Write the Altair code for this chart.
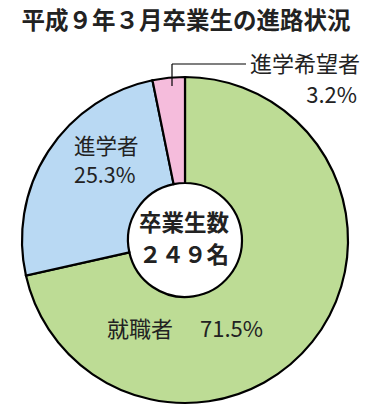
import altair as alt
import pandas as pd

categories = ["就職者", "進学者", "進学希望者"]
shares = [71.5, 25.3, 3.2]
colors = ["#bddc95", "#b9d9f3", "#f5bcdc"]
title_text = "平成９年３月卒業生の進路状況"
total_label = ["卒業生数", "２４９名"]

df = pd.DataFrame({"cat": categories, "share": shares, "order": [0, 1, 2]})
FONT = "Noto Sans CJK JP"

W, H = 378, 413
CX, CY = 185, 240

arc = alt.Chart(df).mark_arc(
    outerRadius=163, innerRadius=57, stroke="black", strokeWidth=2.2
).encode(
    theta=alt.Theta("share:Q", stack=True),
    order=alt.Order("order:Q"),
    color=alt.Color("cat:N", scale=alt.Scale(domain=categories, range=colors), legend=None),
    x=alt.value(CX), y=alt.value(CY),
)

base = alt.Chart(pd.DataFrame({"a": [0]}))

def txt(text, x, y, size, weight="normal", align="left", font=FONT, color="#222"):
    return base.mark_text(
        text=text, fontSize=size, fontWeight=weight, align=align, baseline="middle",
        font=font, color=color
    ).encode(x=alt.value(x), y=alt.value(y))

lbl = {c: f"{s}%" for c, s in zip(categories, shares)}

layers = [
    arc,
    txt(title_text, 186, 22, 23.5, weight="bold", align="center"),
    txt(categories[2], 250, 65, 22),
    txt(lbl[categories[2]], 357, 96, 22, align="right"),
    txt(categories[1], 74, 148, 21.5),
    txt(lbl[categories[1]], 74, 177, 21.5),
    txt(categories[0], 107, 330, 22),
    txt(lbl[categories[0]], 200, 330, 22),
    txt(total_label[0], 184, 224, 22.5, weight="bold", align="center"),
    txt(total_label[1], 184, 256, 22.5, weight="bold", align="center"),
    base.mark_rule(color="black", strokeWidth=1.2).encode(
        x=alt.value(172), x2=alt.value(172), y=alt.value(86), y2=alt.value(64)),
    base.mark_rule(color="black", strokeWidth=1.2).encode(
        x=alt.value(172), x2=alt.value(246), y=alt.value(64), y2=alt.value(64)),
]

chart = alt.layer(*layers).properties(
    width=W, height=H, autosize=alt.AutoSizeParams(type="none"), padding=0,
    background="white"
).configure_view(stroke=None)

chart.save("out.html", embed_options={"renderer": "svg", "actions": False})
